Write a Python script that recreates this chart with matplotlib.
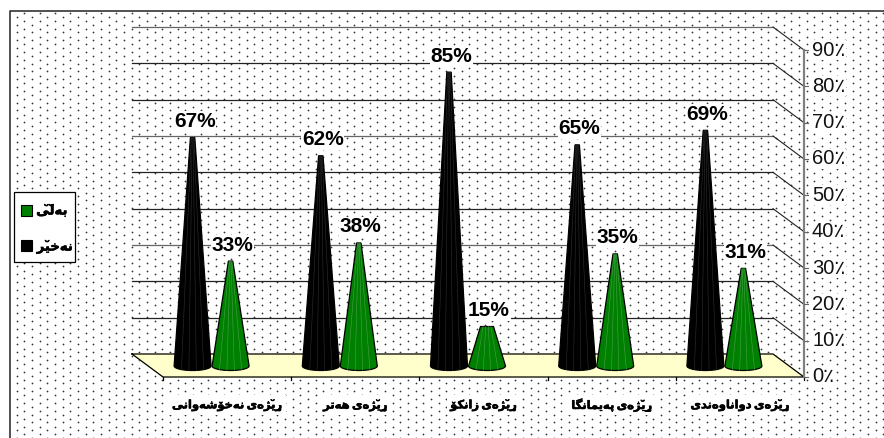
import matplotlib
matplotlib.use("Agg")
import matplotlib.pyplot as plt
import matplotlib.patheffects as pe
import numpy as np

categories = ["ڕێژەی نەخۆشەوانی", "ڕێژەی هەتر", "ڕێژەی زانکۆ", "ڕێژەی پەیمانگا", "ڕێژەی دواناوەندی"]
no_values = [67, 62, 85, 65, 69]
yes_values = [33, 38, 15, 35, 31]
y_ticks = [0, 10, 20, 30, 40, 50, 60, 70, 80, 90]
legend_yes = "بەڵێ"
legend_no = "نەخێر"

W, H = 884, 438
# pixels of the front plane of the 3d box
X0, X1, Y0, Y90 = 163, 804, 377, 50
DX, DY = -31, -23
px_x = (X1 - X0) / 5
px_y = (Y0 - Y90) / 90

# matplotlib has no arabic shaping, so pick the joined forms by hand
JOIN_RIGHT_ONLY = {
    "ا": "\uFE8D\uFE8E", "د": "\uFEA9\uFEAA", "ر": "\uFEAD\uFEAE", "ز": "\uFEAF\uFEB0",
    "ژ": "\uFB8A\uFB8B", "و": "\uFEED\uFEEE", "ۆ": "\uFBD9\uFBDA", "ە": "\u06D5\uFEEA",
}
JOIN_BOTH = {
    "ب": "\uFE8F\uFE90\uFE91\uFE92", "پ": "\uFB56\uFB57\uFB58\uFB59", "ت": "\uFE95\uFE96\uFE97\uFE98",
    "خ": "\uFEA5\uFEA6\uFEA7\uFEA8", "ش": "\uFEB5\uFEB6\uFEB7\uFEB8", "ک": "\uFB8E\uFB8F\uFB90\uFB91",
    "گ": "\uFB92\uFB93\uFB94\uFB95", "ل": "\uFEDD\uFEDE\uFEDF\uFEE0", "م": "\uFEE1\uFEE2\uFEE3\uFEE4",
    "ن": "\uFEE5\uFEE6\uFEE7\uFEE8", "ه": "\uFEE9\uFEEA\uFEEB\uFEEC", "ی": "\uFBFC\uFBFD\uFBFE\uFBFF",
}
MARKED = {"ێ": ("ی", "\u0306"), "ڵ": ("ل", "\u0306"), "ڕ": ("ر", "\u032E")}
heavy = [pe.withStroke(linewidth=0.4, foreground="black")]


def shape(word):
    letters = [MARKED.get(c, (c, "")) for c in word]
    out = []
    prev_joins = False
    for i, (c, mark) in enumerate(letters):
        next_c = letters[i + 1][0] if i + 1 < len(letters) else " "
        next_joins = next_c in JOIN_BOTH or next_c in JOIN_RIGHT_ONLY
        if c in JOIN_RIGHT_ONLY:
            glyph = JOIN_RIGHT_ONLY[c][1 if prev_joins else 0]
            prev_joins = False
        elif c in JOIN_BOTH:
            forms = JOIN_BOTH[c]
            if prev_joins:
                glyph = forms[3] if next_joins else forms[1]
            else:
                glyph = forms[2] if next_joins else forms[0]
            prev_joins = next_joins
        else:
            glyph = c
            prev_joins = False
        out.append(glyph + mark)
    return "".join(reversed(out))


fig = plt.figure(figsize=(W / 100, H / 100), dpi=100, facecolor="white")

# background layer in pixels
bg = fig.add_axes([0, 0, 1, 1])
bg.set_xlim(0, W)
bg.set_ylim(H, 0)
bg.axis("off")
cols = np.arange(16.7, W + 8, 7.67)
dot_x, dot_y = [], []
for i, cx in enumerate(cols):
    start = 16.7 if i % 2 == 0 else 13.2
    ys = np.arange(start, H + 8, 7.8)
    dot_x.extend([cx] * len(ys))
    dot_y.extend(ys)
bg.scatter(dot_x, dot_y, s=1.6, color="#333333", linewidths=0, zorder=1)
bg.plot([9.5, 9.5, W], [H, 11, 11], color="#333333", lw=1.2, zorder=2)

# chart layer: x in categories, y in axis values
ax = fig.add_axes([0, 0, 1, 1], facecolor="none")
ax.set_xlim(-X0 / px_x, (W - X0) / px_x)
ax.set_ylim((Y0 - H) / px_y, Y0 / px_y)
ax.axis("off")
ddx = DX / px_x
ddy = -DY / px_y

# floor
ax.fill([0, 5, 5 + ddx, ddx], [0, 0, ddy, ddy], color="#FFFFCC", zorder=2)
ax.plot([ddx, 0, 5, 5 + ddx, ddx], [ddy, 0, 0, ddy, ddy], color="black", lw=0.9, zorder=3)

# gridlines along back wall and side wall
for t in y_ticks[1:]:
    c = "#666666" if t in (90, 60, 30) else "#222222"
    ax.plot([ddx, 5 + ddx], [t + ddy, t + ddy], color=c, lw=0.9, zorder=3)
    ax.plot([5 + ddx, 5], [t + ddy, t], color="#222222", lw=0.8, zorder=3)
ax.plot([5, 5], [y_ticks[0], y_ticks[-1]], color="#808080", lw=1.6, zorder=4)
for t in y_ticks:
    ax.plot([5, 5 + 4 / px_x], [t, t], color="#666666", lw=0.8, zorder=4)
    ax.text(5 + 8 / px_x, t, "%d\u066A" % t, ha="left", va="center", fontsize=14.5,
            family=["Liberation Sans", "DejaVu Sans"], color="#111111", zorder=6,
            bbox=dict(facecolor="white", edgecolor="none", pad=0.5))
for k in range(6):
    ax.plot([k, k], [0, -3 / px_y], color="black", lw=0.9, zorder=3)


def draw_cone(xc, value, color, facet, order):
    half = 18.5 / px_x
    tip = (6.5 if value < 20 else 2.2) / px_x
    top = value - 4 / px_y
    base = 11 / px_y
    drop = 4.5 / px_y
    t = np.linspace(np.pi, 2 * np.pi, 30)
    xs = np.r_[xc - tip, xc + half * np.cos(t), xc + tip]
    ys = np.r_[top, base + drop * np.sin(t), top]
    ax.fill(xs, ys, facecolor=color, edgecolor="black", lw=0.9, zorder=order)
    for f in np.linspace(-0.6, 0.6, 4):
        ang = np.arccos(f)
        ax.plot([xc + tip * f, xc + half * f], [top, base - drop * np.sin(ang)],
                color=facet, lw=0.4, zorder=order + 0.1)


def value_label(xc, value):
    ax.text(xc + 2 / px_x, value - 4 / px_y + 16 / px_y, "%d%%" % value, ha="center", va="center",
            fontsize=15, family="Liberation Sans", fontweight="bold", color="black", zorder=9,
            bbox=dict(facecolor="white", edgecolor="none", pad=0.5))


off = 19 / px_x
for i, name in enumerate(categories):
    center = i + 0.5 + ddx / 2
    draw_cone(center - off, no_values[i], "black", "#303030", 5)
    draw_cone(center + off, yes_values[i], "#008000", "#4a9f4a", 6)
    value_label(center - off, no_values[i])
    value_label(center + off, yes_values[i])
    ax.text(i + 0.5, -28 / px_y, shape(name).replace(" ", "\u2009"), ha="center", va="center", fontsize=8.3,
            family="DejaVu Sans", fontweight="bold", color="black", zorder=6, path_effects=heavy,
            bbox=dict(facecolor="white", edgecolor="none", pad=2.5))

# legend box
bg.add_patch(plt.Rectangle((14, 192), 61, 70, facecolor="white", edgecolor="black", lw=0.9, zorder=3))
bg.add_patch(plt.Rectangle((21, 205), 11, 11, facecolor="#008000", edgecolor="black", lw=0.8, zorder=4))
bg.add_patch(plt.Rectangle((21, 240), 11, 11, facecolor="black", edgecolor="black", lw=0.8, zorder=4))
bg.text(52, 211, shape(legend_yes), ha="center", va="center", fontsize=9.5, family="DejaVu Sans",
        fontweight="bold", zorder=4, path_effects=heavy)
bg.text(55, 247, shape(legend_no), ha="center", va="center", fontsize=9.5, family="DejaVu Sans",
        fontweight="bold", zorder=4, path_effects=heavy)

fig.savefig("out.png", dpi=100)
